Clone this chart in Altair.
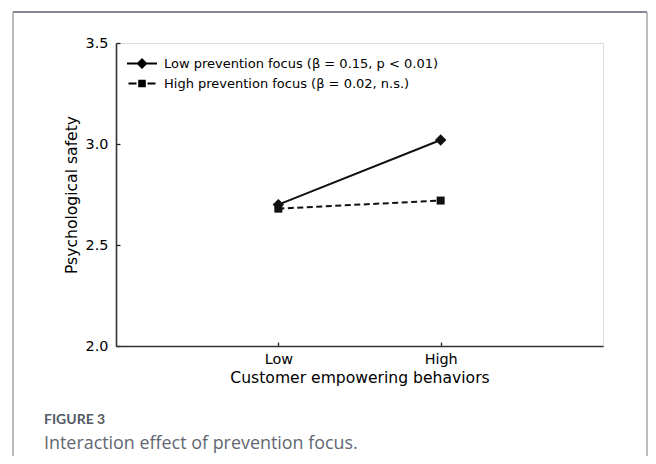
import altair as alt
import pandas as pd

# ---- data ----
levels = ["Low", "High"]
series = ["Low prevention focus (β = 0.15, p < 0.01)",
          "High prevention focus (β = 0.02, n.s.)"]
low_focus = [2.70, 3.02]
high_focus = [2.68, 2.72]
y_ticks = [2.0, 2.5, 3.0, 3.5]
x_title = "Customer empowering behaviors"
y_title = "Psychological safety"
caption_label = "FIGURE 3"
caption_text = "Interaction effect of prevention focus."

rows = []
for s, vals in zip(series, [low_focus, high_focus]):
    for lv, v in zip(levels, vals):
        rows.append({"level": lv, "value": v, "series": s})
df = pd.DataFrame(rows)
legend_df = pd.DataFrame({"entry": series})

W, H = 487, 303
FONT = "DejaVu Sans"

x_enc = alt.X(
    "level:N", sort=levels,
    scale=alt.Scale(type="point", domain=levels, padding=1),
    axis=alt.Axis(
        title=x_title, titleFont=FONT, titleFontSize=15.6, titleFontWeight="normal",
        titleColor="black", titlePadding=5,
        labelFont=FONT, labelFontSize=14.4, labelColor="black", labelAngle=0,
        labelPadding=6, ticks=False, tickSize=0,
        grid=True, gridDash=[4, 299], gridDashOffset=4, gridColor="#222", gridWidth=1.3,
        domainColor="#333", domainWidth=1.6,
    ),
)
y_enc = alt.Y(
    "value:Q",
    scale=alt.Scale(domain=[2.0, 3.5], nice=False, zero=False),
    axis=alt.Axis(
        values=y_ticks, format=".1f",
        title=y_title, titleFont=FONT, titleFontSize=15.6, titleFontWeight="normal",
        titleColor="black", titlePadding=6,
        labelFont=FONT, labelFontSize=14.4, labelColor="black", labelPadding=8,
        labelFlush=False, ticks=False, tickSize=0,
        grid=True, gridDash=[4, 1000], gridColor="#222", gridWidth=1.3,
        domainColor="#333", domainWidth=1.6,
    ),
)

base = alt.Chart(df)

line_low = base.transform_filter(alt.datum.series == series[0]).mark_line(
    color="#111", strokeWidth=2).encode(x=x_enc, y=y_enc)
line_high = base.transform_filter(alt.datum.series == series[1]).mark_line(
    color="#111", strokeWidth=2, strokeDash=[6, 3.5]).encode(x=x_enc, y=y_enc)

pts_low = base.transform_filter(alt.datum.series == series[0]).mark_point(
    shape="diamond", filled=True, size=130, color="#111", opacity=1
).encode(x=x_enc, y=y_enc)

pts_high = base.transform_filter(alt.datum.series == series[1]).mark_point(
    shape="square", filled=True, size=64, color="#111", opacity=1
).encode(x=x_enc, y=y_enc)

# legend glyphs (line + marker), all drawn as filled shapes in symbol units
path_low = ("M-1.5,-0.1L1.5,-0.1L1.5,0.1L-1.5,0.1Z"
            "M0,-0.55L0.55,0L0,0.55L-0.55,0Z")
path_high = ("M-1.35,-0.1L-0.55,-0.1L-0.55,0.1L-1.35,0.1Z"
             "M0.55,-0.1L1.35,-0.1L1.35,0.1L0.55,0.1Z"
             "M-0.38,-0.38L0.38,-0.38L0.38,0.38L-0.38,0.38Z")

legend_layer = alt.Chart(legend_df).mark_point(
    filled=True, color="black", size=400, opacity=0
).encode(
    shape=alt.Shape(
        "entry:N",
        scale=alt.Scale(domain=series, range=[path_low, path_high]),
        legend=alt.Legend(
            title=None, orient="none", legendX=16, legendY=10.5, padding=0,
            symbolOffset=0, labelOffset=12, rowPadding=3,
            labelFont=FONT, labelFontSize=13, labelColor="black", labelLimit=500,
            symbolSize=400, symbolStrokeWidth=0, symbolOpacity=1,
            symbolFillColor="black",
        ),
    ),
    x=alt.value(-200), y=alt.value(-200),
)

one = pd.DataFrame({"k": [0]})
frame_top = alt.Chart(one).mark_rule(color="#5c606e", strokeWidth=1.5).encode(
    x=alt.value(-103), x2=alt.value(531), y=alt.value(-31))
frame_left = alt.Chart(one).mark_rule(color="#a3a5ad", strokeWidth=1.5).encode(
    x=alt.value(-103), y=alt.value(-31), y2=alt.value(413))
frame_right = alt.Chart(one).mark_rule(color="#a3a5ad", strokeWidth=1.5).encode(
    x=alt.value(531), y=alt.value(-31), y2=alt.value(413))

cap1 = alt.Chart(pd.DataFrame({"t": [caption_label]})).mark_text(
    align="left", baseline="alphabetic", font="Lato", fontSize=14,
    fontWeight="bold", color="#545a66"
).encode(x=alt.value(-72), y=alt.value(381), text="t:N")

cap2 = alt.Chart(pd.DataFrame({"t": [caption_text]})).mark_text(
    align="left", baseline="alphabetic", font="Open Sans", fontSize=17.9,
    color="#626772"
).encode(x=alt.value(-72), y=alt.value(406), text="t:N")

chart = alt.layer(
    frame_top, frame_left, frame_right,
    line_low, line_high, pts_low, pts_high, legend_layer, cap1, cap2
).properties(
    width=W, height=H,
    autosize=alt.AutoSizeParams(type="none"),
    padding={"left": 108, "top": 35, "right": 45, "bottom": 110},
).configure_view(stroke="transparent").configure(background="white")

chart.save("out.html", embed_options={"renderer": "svg", "actions": False})
